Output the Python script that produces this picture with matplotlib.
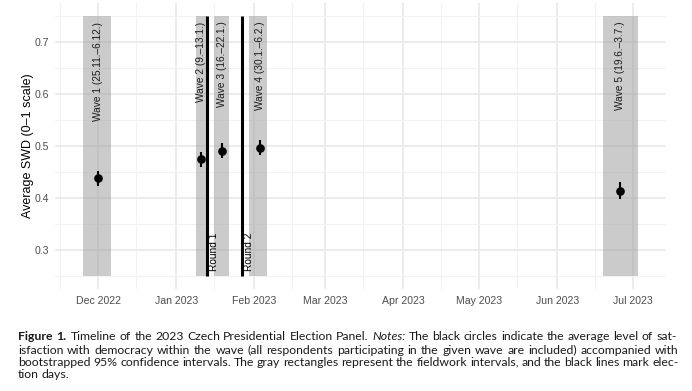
import pandas as pd
import matplotlib
matplotlib.use("Agg")
import matplotlib.pyplot as plt
import matplotlib.dates as mdates

plt.rcParams["font.family"] = ["Liberation Sans", "DejaVu Sans"]

# ---------------------------------------------------
# Data
# ---------------------------------------------------
wave_labels = ["Wave 1 (25.11.–6.12.)", "Wave 2 (9.–13.1.)", "Wave 3 (16.–22.1.)",
               "Wave 4 (30.1.–6.2.)", "Wave 5 (19.6.–3.7.)"]
wave_start = pd.to_datetime(["2022-11-25", "2023-01-09", "2023-01-16", "2023-01-30", "2023-06-19"])
wave_end = pd.to_datetime(["2022-12-06", "2023-01-13", "2023-01-22", "2023-02-06", "2023-07-03"])
point_date = pd.to_datetime(["2022-12-01", "2023-01-11", "2023-01-19", "2023-02-03", "2023-06-26"])
swd_mean = [0.438, 0.475, 0.490, 0.496, 0.413]
ci_low = [0.423, 0.460, 0.477, 0.482, 0.398]
ci_high = [0.452, 0.488, 0.505, 0.511, 0.431]

round_labels = ["Round 1", "Round 2"]
round_date = pd.to_datetime(["2023-01-13", "2023-01-27"])

rect_bottom, rect_top = 0.25, 0.75

caption_lines = [
    [("Figure 1.", "bold"), ("", "gap"), ("Timeline of the 2023 Czech Presidential Election Panel.", "normal"),
     ("Notes:", "italic"),
     ("The black circles indicate the average level of sat-", "normal")],
    [("isfaction with democracy within the wave (all respondents participating in the given wave are included) accompanied with", "normal")],
    [("bootstrapped 95% confidence intervals. The gray rectangles represent the fieldwork intervals, and the black lines mark elec-", "normal")],
    [("tion days.", "normal")],
]

# ---------------------------------------------------
# Figure
# ---------------------------------------------------
W, H = 692, 391
fig = plt.figure(figsize=(W / 100, H / 100), dpi=100)
ax = fig.add_axes([55.1 / W, 1 - 289 / H, 610.7 / W, 286 / H])

for s, e in zip(wave_start, wave_end):
    ax.fill_between([s, e], rect_bottom, rect_top, color="#999999", alpha=0.5, lw=0, zorder=1)

for d in round_date:
    ax.plot([d, d], [rect_bottom, rect_top], color="black", lw=2.2, zorder=3, solid_capstyle="butt")

ax.vlines(point_date, ci_low, ci_high, color="black", lw=1.5, zorder=4)
ax.plot(point_date, swd_mean, "o", color="black", ms=5.2, zorder=5)

for d, lab in zip(point_date, wave_labels):
    ax.text(d, 0.739, lab, rotation=90, ha="center", va="top", fontsize=7.3, color="#1a1a1a", zorder=6)

for d, lab in zip(round_date, round_labels):
    ax.text(d + pd.Timedelta(hours=20), 0.259, lab, rotation=90, ha="left", va="bottom",
            fontsize=7.3, color="black", zorder=6)

ax.set_xlim(pd.Timestamp("2022-11-14"), pd.Timestamp("2023-07-14"))
ax.set_ylim(0.225, 0.775)

ax.xaxis.set_major_locator(mdates.MonthLocator(bymonthday=1))
ax.xaxis.set_major_formatter(mdates.DateFormatter("%b %Y"))
ax.xaxis.set_minor_locator(mdates.MonthLocator(bymonthday=16))
ax.set_yticks([0.3, 0.4, 0.5, 0.6, 0.7])
ax.set_yticks([0.25, 0.35, 0.45, 0.55, 0.65, 0.75], minor=True)

ax.grid(which="major", color="#ebebeb", lw=1.3, zorder=0)
ax.grid(which="minor", color="#f2f2f2", lw=0.8, zorder=0)
ax.set_axisbelow(True)
for sp in ax.spines.values():
    sp.set_visible(False)
ax.tick_params(which="both", length=0, labelsize=7.6, labelcolor="#4d4d4d")
ax.tick_params(axis="x", pad=5)
ax.tick_params(axis="y", pad=4)
ax.set_ylabel("Average SWD (0–1 scale)", fontsize=9, color="black", labelpad=1)

# ---------------------------------------------------
# Caption (justified by word placement)
# ---------------------------------------------------
cap_font = ["Lato", "DejaVu Sans"]
x_left, x_right = 18, 680
line_y = [337, 350, 362, 375]
renderer = fig.canvas.get_renderer()

# size the caption font so line 2 fits the text width with plain spaces
probe = fig.text(0, 0, caption_lines[1][0][0], fontsize=10, family=cap_font)
probe_w = probe.get_window_extent(renderer).width
probe.remove()
cap_size = 10 * (x_right - x_left) / probe_w * 0.985

for i, (parts, y) in enumerate(zip(caption_lines, line_y)):
    words = []
    for txt, style in parts:
        if style == "gap":
            words.append(("", "gap"))
            continue
        for w in txt.split(" "):
            words.append((w, style))
    objs = []
    for w, style in words:
        if style == "gap":
            objs.append(None)
            continue
        t = fig.text(0, 1 - y / H, w, fontsize=cap_size, family=cap_font, va="center", ha="left",
                     color="#1a1a1a",
                     fontweight="bold" if style == "bold" else "normal",
                     fontstyle="italic" if style == "italic" else "normal")
        objs.append(t)
    widths = [o.get_window_extent(renderer).width if o is not None else 0 for o in objs]
    n_gaps = len(objs) - 1
    justify = i < len(caption_lines) - 1
    space = cap_size * 0.33
    if justify and n_gaps > 0:
        space = (x_right - x_left - sum(widths) - space * 0.5) / n_gaps
    x = x_left
    for o, w in zip(objs, widths):
        if o is not None:
            o.set_x(x / W)
            x += w + space
        else:
            x += space * 0.5

fig.savefig("out.png", dpi=100, facecolor="white")
